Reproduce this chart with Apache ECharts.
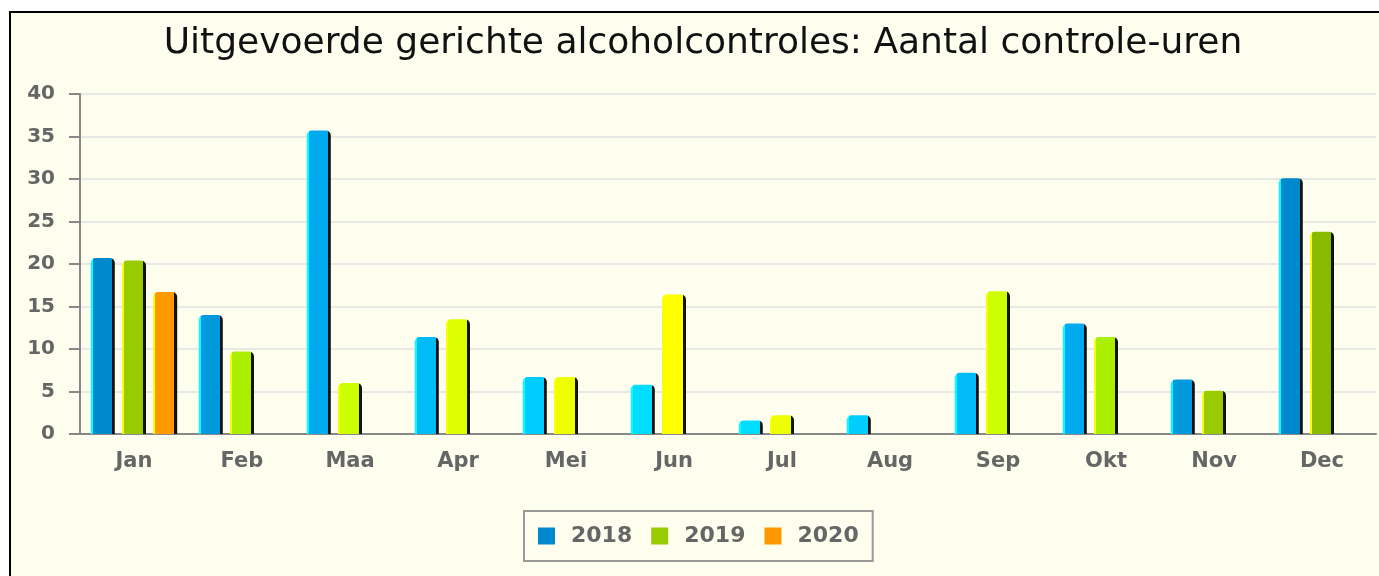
<!DOCTYPE html>
<html>
<head>
<meta charset="utf-8">
<script src="https://cdn.jsdelivr.net/npm/echarts@6/dist/echarts.min.js"></script>
<style>
  html, body { margin: 0; padding: 0; background: #ffffff; }
  #main { width: 1379px; height: 576px; }
</style>
</head>
<body>
<div id="main"></div>
<script>
const months = ['Jan', 'Feb', 'Maa', 'Apr', 'Mei', 'Jun', 'Jul', 'Aug', 'Sep', 'Okt', 'Nov', 'Dec'];
const years = ['2018', '2019', '2020'];
const values2018 = [20.7, 14.0, 35.7, 11.4, 6.7, 5.8, 1.6, 2.2, 7.2, 13.0, 6.4, 30.1];
const values2019 = [20.4, 9.7, 6.0, 13.5, 6.7, 16.4, 2.2, null, 16.8, 11.4, 5.1, 23.8];
const values2020 = [16.7, null, null, null, null, null, null, null, null, null, null, null];
const yTicks = [0, 5, 10, 15, 20, 25, 30, 35, 40];

// colours shift per month like the original
const colors2018 = ['#0088cc', '#0099dd', '#00aaee', '#00bbf8', '#00ccff', '#00ddff',
  '#00ddff', '#00ccff', '#00bbf8', '#00aaee', '#0099dd', '#0088cc'];
const colors2019 = ['#99cc00', '#aaee00', '#ccff00', '#ddff00', '#eeff00', '#ffff00',
  '#eeff00', '#ddff00', '#ccff00', '#aaee00', '#99cc00', '#88bb00'];
const colors2020 = ['#ff9900', '#ff9900', '#ff9900', '#ff9900', '#ff9900', '#ff9900',
  '#ff9900', '#ff9900', '#ff9900', '#ff9900', '#ff9900', '#ff9900'];

function barFill(main, light) {
  return new echarts.graphic.LinearGradient(0, 0, 1, 0, [
    { offset: 0, color: light },
    { offset: 0.09, color: light },
    { offset: 0.09, color: main },
    { offset: 0.87, color: main },
    { offset: 0.87, color: '#111111' },
    { offset: 1, color: '#111111' }
  ]);
}

function buildData(values, cols, light) {
  return values.map((v, i) => ({
    value: v,
    itemStyle: { color: barFill(cols[i], light) }
  }));
}

const chart = echarts.init(document.getElementById('main'));
const option = {
  backgroundColor: '#ffffff',
  animation: false,
  graphic: [{
    type: 'rect',
    z: -100,
    shape: { x: 10, y: 12, width: 1400, height: 600 },
    style: { fill: '#fefeef', stroke: '#000000', lineWidth: 2 }
  }],
  title: {
    text: 'Uitgevoerde gerichte alcoholcontroles: Aantal controle-uren',
    left: 698,
    textAlign: 'center',
    top: 21,
    textStyle: { fontFamily: 'DejaVu Sans', fontWeight: 'normal', fontSize: 36, color: '#111111' }
  },
  legend: {
    data: years,
    top: 511,
    left: 524,
    itemWidth: 17,
    itemHeight: 17,
    itemGap: 19,
    padding: [14, 14, 14, 14],
    borderColor: '#999999',
    borderWidth: 2,
    backgroundColor: '#fefeef',
    icon: 'rect',
    itemStyle: { borderWidth: 0 },
    textStyle: { fontFamily: 'DejaVu Sans', fontWeight: 'bold', fontSize: 22, color: '#666666', padding: [0, 0, 0, 11] }
  },
  grid: { left: 80, right: 3, top: 94, bottom: 142, containLabel: false },
  xAxis: {
    type: 'category',
    data: months,
    axisLine: { lineStyle: { color: '#888888', width: 2 } },
    axisTick: { length: 6, lineStyle: { color: '#888888', width: 2 } },
    axisLabel: { margin: 17, fontFamily: 'DejaVu Sans', fontWeight: 'bold', fontSize: 21, color: '#666666' }
  },
  yAxis: {
    type: 'value',
    min: yTicks[0],
    max: yTicks[yTicks.length - 1],
    interval: 5,
    axisLine: { show: true, lineStyle: { color: '#888888', width: 2 } },
    axisTick: { show: true, length: 11, lineStyle: { color: '#888888', width: 2 } },
    axisLabel: { margin: 25, fontFamily: 'DejaVu Sans', fontWeight: 'bold', fontSize: 20, color: '#666666' },
    splitLine: { lineStyle: { color: '#e8e8e4', width: 2 } }
  },
  series: [
    { name: years[0], type: 'bar', barWidth: 24, barGap: '30%', barCategoryGap: '20%',
      itemStyle: { color: '#0088cc', borderRadius: [5, 5, 0, 0] },
      data: buildData(values2018, colors2018, '#00ffff') },
    { name: years[1], type: 'bar', barWidth: 24, barGap: '30%',
      itemStyle: { color: '#99cc00', borderRadius: [5, 5, 0, 0] },
      data: buildData(values2019, colors2019, '#ffff00') },
    { name: years[2], type: 'bar', barWidth: 24, barGap: '30%',
      itemStyle: { color: '#ff9900', borderRadius: [5, 5, 0, 0] },
      data: buildData(values2020, colors2020, '#ffff00') }
  ]
};
chart.setOption(option);
</script>
</body>
</html>
